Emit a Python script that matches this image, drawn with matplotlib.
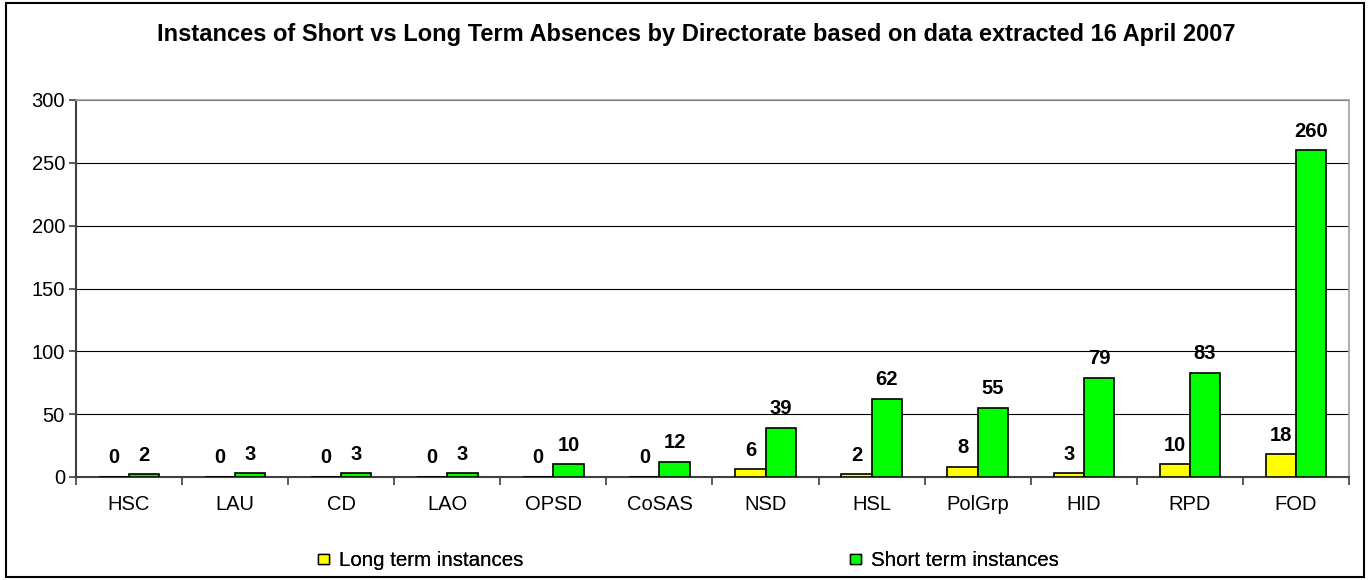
import matplotlib
matplotlib.use("Agg")
import matplotlib.pyplot as plt
import numpy as np
from matplotlib.patches import Rectangle, Patch

plt.rcParams['font.family'] = ['Liberation Sans', 'DejaVu Sans']

categories = ["HSC", "LAU", "CD", "LAO", "OPSD", "CoSAS", "NSD", "HSL", "PolGrp", "HID", "RPD", "FOD"]
long_term = [0, 0, 0, 0, 0, 0, 6, 2, 8, 3, 10, 18]
short_term = [2, 3, 3, 3, 10, 12, 39, 62, 55, 79, 83, 260]
title = "Instances of Short vs Long Term Absences by Directorate based on data extracted 16 April 2007"

W, H = 1369, 580
fig = plt.figure(figsize=(W / 100, H / 100), dpi=100)
ax = fig.add_axes([76 / W, 1 - 477 / H, (1349 - 76) / W, (477 - 100) / H])

x = np.arange(len(categories))
bw = 0.285
b1 = ax.bar(x - bw / 2, long_term, bw, color="#FFFF00", edgecolor="black", linewidth=1.2, zorder=3)
b2 = ax.bar(x + bw / 2, short_term, bw, color="#00FF00", edgecolor="black", linewidth=1.2, zorder=3)

for rects, vals in ((b1, long_term), (b2, short_term)):
    for r, v in zip(rects, vals):
        ax.annotate(str(v), (r.get_x() + r.get_width() / 2, v), xytext=(0, 7),
                    textcoords="offset points", ha="center", va="bottom",
                    fontsize=14.5, fontweight="bold", color="black")

ax.set_xlim(-0.5, len(categories) - 0.5)
ax.set_ylim(0, 300)
ax.set_yticks(np.arange(0, 301, 50))
ax.yaxis.grid(True, color="black", linewidth=0.8, zorder=0)
ax.set_axisbelow(True)

ax.set_xticks(x)
ax.set_xticklabels(categories, fontsize=14.5)
ax.tick_params(axis="x", length=0, pad=13)
ax.set_xticks(np.arange(-0.5, len(categories), 1), minor=True)
ax.tick_params(axis="x", which="minor", length=6, width=1.2, color="#404040")
ax.tick_params(axis="y", length=5, width=1.2, color="#404040", labelsize=14.5, pad=3)

for s in ("left", "bottom"):
    ax.spines[s].set_color("#404040")
    ax.spines[s].set_linewidth(1.5)
for s in ("top", "right"):
    ax.spines[s].set_color("#A0A0A0")
    ax.spines[s].set_linewidth(1.2)

fig.text(696 / W, 1 - 35 / H, title, ha="center", va="center", fontsize=17, fontweight="bold")

fig.patches.append(Rectangle((6 / W, 3 / H), (1364 - 6) / W, (577 - 3) / H,
                             transform=fig.transFigure, fill=False, edgecolor="black",
                             linewidth=1.5))

labels = ["Long term instances", "Short term instances"]
colors = ["#FFFF00", "#00FF00"]
lx = [318, 850]
for lab, col, px in zip(labels, colors, lx):
    leg = fig.legend(handles=[Patch(facecolor=col, edgecolor="black", label=lab)],
                     loc="center left", bbox_to_anchor=(px / W, 1 - 561 / H),
                     frameon=False, fontsize=14.8, handlelength=0.55, handleheight=0.4,
                     handletextpad=0.45, borderpad=0, borderaxespad=0)
    fig.add_artist(leg)

fig.savefig("out.png", dpi=100)
